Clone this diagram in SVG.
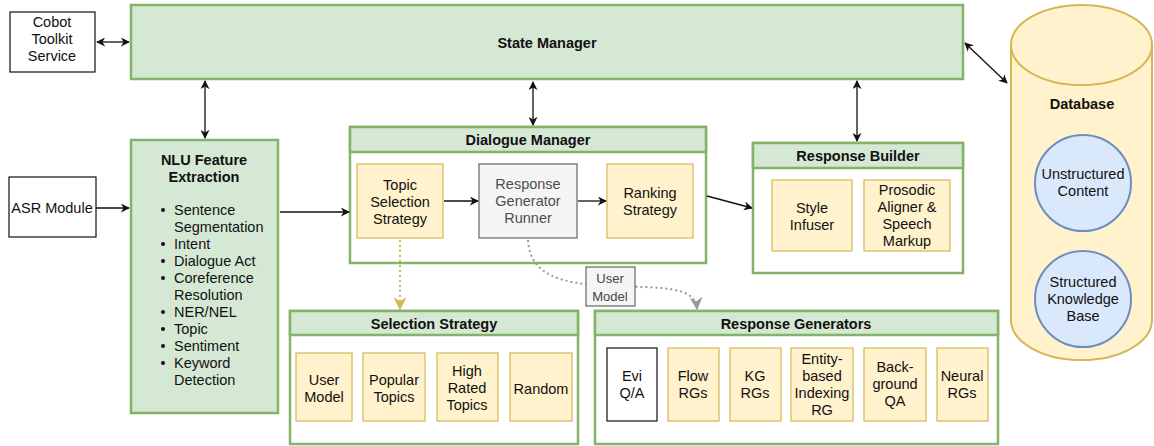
<svg xmlns="http://www.w3.org/2000/svg" width="1154" height="446" viewBox="0 0 1154 446">
<defs>
<style>
text{font-family:"Liberation Sans",Arial,sans-serif;font-size:14.5px;fill:#111;text-anchor:middle}
.b{font-weight:bold}
.l{text-anchor:start}
.grn{fill:#d5e8d4;stroke:#82b366;stroke-width:2.5}
.wbox{fill:#fff;stroke:#82b366;stroke-width:2.5}
.yel{fill:#fff2cc;stroke:#d6b656;stroke-width:1.2}
.wht{fill:#fff;stroke:#111;stroke-width:1.2}
.gry{fill:#f5f5f5;stroke:#666;stroke-width:1.2}
.blu{fill:#dae8fc;stroke:#6c8ebf;stroke-width:2}
.c{fill:none;stroke:#111;stroke-width:1.3}
</style>
<marker id="ah" viewBox="0 0 10 10" refX="9" refY="5" markerWidth="9" markerHeight="9" markerUnits="userSpaceOnUse" orient="auto-start-reverse"><path d="M0,0 L10,5 L0,10 L3,5 Z" fill="#111"/></marker>
<marker id="ahy" viewBox="0 0 10 10" refX="9" refY="5" markerWidth="13" markerHeight="13" markerUnits="userSpaceOnUse" orient="auto"><path d="M0,0 L10,5 L0,10 L3,5 Z" fill="#d6b656"/></marker>
<marker id="ahg" viewBox="0 0 10 10" refX="9" refY="5" markerWidth="13" markerHeight="13" markerUnits="userSpaceOnUse" orient="auto"><path d="M0,0 L10,5 L0,10 L3,5 Z" fill="#999"/></marker>
</defs>

<g id="cobot">
<rect class="wht" x="10" y="12" width="85" height="60"/>
<text x="52" y="27">Cobot</text><text x="52" y="44">Toolkit</text><text x="52" y="61">Service</text>
</g>

<g id="state-manager">
<rect class="grn" x="131" y="5" width="832" height="74"/>
<text class="b" x="547" y="48">State Manager</text>
</g>

<g id="database">
<path d="M1011,45 A70.5,40 0 0 1 1152,45 L1152,320 A70.5,40 0 0 1 1011,320 Z" fill="#fff2cc" stroke="#d6b656" stroke-width="2"/>
<path d="M1011,45 A70.5,40 0 0 0 1152,45" fill="none" stroke="#d6b656" stroke-width="2"/>
<text class="b" x="1082" y="109">Database</text>
</g>
<g id="unstructured">
<circle class="blu" cx="1083" cy="183" r="48"/>
<text x="1083" y="179">Unstructured</text><text x="1083" y="196">Content</text>
</g>
<g id="structured">
<circle class="blu" cx="1083" cy="299" r="48"/>
<text x="1083" y="287">Structured</text><text x="1083" y="304">Knowledge</text><text x="1083" y="321">Base</text>
</g>

<g id="asr">
<rect class="wht" x="9" y="177" width="87" height="60"/>
<text x="52" y="213">ASR Module</text>
</g>

<g id="nlu">
<rect class="grn" x="131" y="140" width="147" height="273"/>
<text class="b" x="204" y="165">NLU Feature</text>
<text class="b" x="204" y="182">Extraction</text>
<g fill="#111">
<circle cx="163" cy="210" r="2"/><circle cx="163" cy="244" r="2"/><circle cx="163" cy="261" r="2"/><circle cx="163" cy="278" r="2"/><circle cx="163" cy="312" r="2"/><circle cx="163" cy="329" r="2"/><circle cx="163" cy="346" r="2"/><circle cx="163" cy="363" r="2"/>
</g>
<text class="l" x="174" y="215">Sentence</text>
<text class="l" x="174" y="232">Segmentation</text>
<text class="l" x="174" y="249">Intent</text>
<text class="l" x="174" y="266">Dialogue Act</text>
<text class="l" x="174" y="283">Coreference</text>
<text class="l" x="174" y="300">Resolution</text>
<text class="l" x="174" y="317">NER/NEL</text>
<text class="l" x="174" y="334">Topic</text>
<text class="l" x="174" y="351">Sentiment</text>
<text class="l" x="174" y="368">Keyword</text>
<text class="l" x="174" y="385">Detection</text>
</g>

<g id="dialogue-manager">
<rect class="wbox" x="350" y="127" width="356" height="136"/>
<rect class="grn" x="350" y="127" width="356" height="25"/>
<text class="b" x="528" y="145">Dialogue Manager</text>
</g>
<g id="topic-selection">
<rect class="yel" x="357" y="164" width="86" height="74"/>
<text x="400" y="190">Topic</text><text x="400" y="207">Selection</text><text x="400" y="224">Strategy</text>
</g>
<g id="rg-runner">
<rect class="gry" x="479" y="164" width="98" height="74"/>
<text x="528" y="189" style="fill:#4d4d4d">Response</text><text x="528" y="206" style="fill:#4d4d4d">Generator</text><text x="528" y="223" style="fill:#4d4d4d">Runner</text>
</g>
<g id="ranking">
<rect class="yel" x="607" y="164" width="86" height="74"/>
<text x="650" y="198">Ranking</text><text x="650" y="215">Strategy</text>
</g>

<g id="response-builder">
<rect class="wbox" x="753" y="143" width="210" height="130"/>
<rect class="grn" x="753" y="143" width="210" height="25"/>
<text class="b" x="858" y="161">Response Builder</text>
</g>
<g id="style-infuser">
<rect class="yel" x="772" y="180" width="80" height="71"/>
<text x="812" y="213">Style</text><text x="812" y="230">Infuser</text>
</g>
<g id="prosodic">
<rect class="yel" x="864" y="180" width="86" height="71"/>
<text x="907" y="195">Prosodic</text><text x="907" y="212">Aligner &amp;</text><text x="907" y="229">Speech</text><text x="907" y="246">Markup</text>
</g>

<g id="selection-strategy">
<rect class="wbox" x="290" y="311" width="288" height="133"/>
<rect class="grn" x="290" y="311" width="288" height="24"/>
<text class="b" x="434" y="329">Selection Strategy</text>
</g>
<g id="ss-user-model"><rect class="yel" x="296" y="353" width="56" height="68"/><text x="324" y="385">User</text><text x="324" y="402">Model</text></g>
<g id="ss-popular"><rect class="yel" x="363" y="353" width="62" height="68"/><text x="394" y="385">Popular</text><text x="394" y="402">Topics</text></g>
<g id="ss-high"><rect class="yel" x="437" y="353" width="61" height="68"/><text x="467" y="376">High</text><text x="467" y="393">Rated</text><text x="467" y="410">Topics</text></g>
<g id="ss-random"><rect class="yel" x="510" y="353" width="62" height="68"/><text x="541" y="394">Random</text></g>

<g id="response-generators">
<rect class="wbox" x="595" y="311" width="403" height="133"/>
<rect class="grn" x="595" y="311" width="403" height="24"/>
<text class="b" x="796" y="329">Response Generators</text>
</g>
<g id="rg-evi"><rect class="wht" x="607" y="348" width="50" height="73"/><text x="632" y="381">Evi</text><text x="632" y="398">Q/A</text></g>
<g id="rg-flow"><rect class="yel" x="668" y="348" width="51" height="73"/><text x="693" y="381">Flow</text><text x="693" y="398">RGs</text></g>
<g id="rg-kg"><rect class="yel" x="730" y="348" width="51" height="73"/><text x="755" y="381">KG</text><text x="755" y="398">RGs</text></g>
<g id="rg-entity"><rect class="yel" x="791" y="348" width="62" height="73"/><text x="822" y="364">Entity-</text><text x="822" y="381">based</text><text x="822" y="398">Indexing</text><text x="822" y="415">RG</text></g>
<g id="rg-background"><rect class="yel" x="864" y="348" width="62" height="73"/><text x="895" y="372">Back-</text><text x="895" y="389">ground</text><text x="895" y="406">QA</text></g>
<g id="rg-neural"><rect class="yel" x="937" y="348" width="51" height="73"/><text x="962" y="381">Neural</text><text x="962" y="398">RGs</text></g>

<g id="connectors">
<line class="c" x1="97" y1="42" x2="129" y2="42" marker-start="url(#ah)" marker-end="url(#ah)"/>
<line class="c" x1="205" y1="81" x2="205" y2="138" marker-start="url(#ah)" marker-end="url(#ah)"/>
<line class="c" x1="533" y1="82" x2="533" y2="125" marker-start="url(#ah)" marker-end="url(#ah)"/>
<line class="c" x1="857" y1="81" x2="857" y2="141" marker-start="url(#ah)" marker-end="url(#ah)"/>
<line class="c" x1="965" y1="43" x2="1007" y2="83" marker-start="url(#ah)" marker-end="url(#ah)"/>
<line class="c" x1="96" y1="208" x2="129" y2="208" marker-end="url(#ah)"/>
<line class="c" x1="280" y1="212" x2="349" y2="212" marker-end="url(#ah)"/>
<line class="c" x1="444" y1="201" x2="478" y2="201" marker-end="url(#ah)"/>
<line class="c" x1="578" y1="201" x2="606" y2="201" marker-end="url(#ah)"/>
<line class="c" x1="707" y1="196" x2="752" y2="208" marker-end="url(#ah)"/>
<line x1="400" y1="240" x2="400" y2="309" stroke="#d6b656" stroke-width="2" stroke-dasharray="2 3" marker-end="url(#ahy)"/>
<path d="M528,240 C530,275 560,284 610,286 C660,288 695,285 697,309" fill="none" stroke="#999" stroke-width="2" stroke-dasharray="2 3" marker-end="url(#ahg)"/>
</g>

<g id="user-model-label">
<rect class="gry" x="586" y="267" width="49" height="39"/>
<text x="610" y="283" style="fill:#444;font-size:13px">User</text><text x="610" y="301" style="fill:#444;font-size:13px">Model</text>
</g>
</svg>
